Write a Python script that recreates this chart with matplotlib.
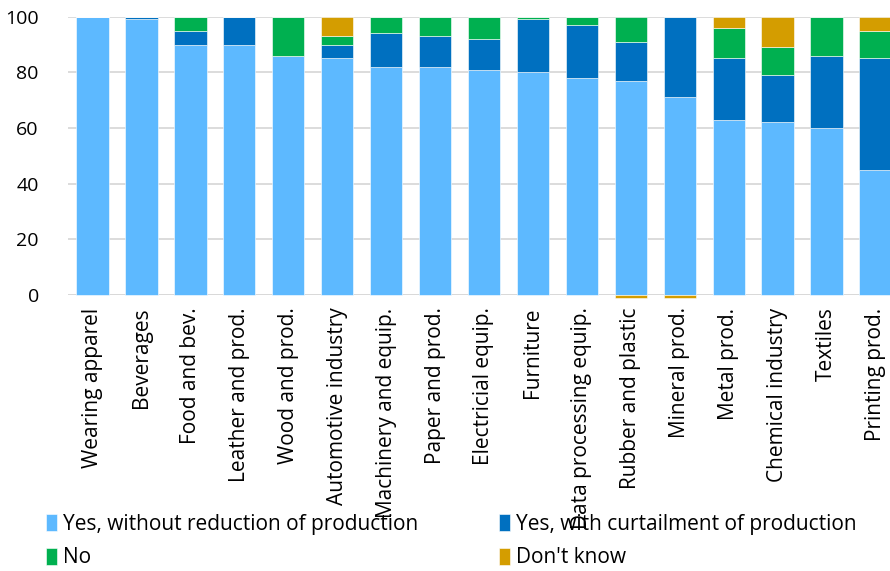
import matplotlib
matplotlib.use("Agg")
import matplotlib.pyplot as plt
from matplotlib import font_manager
import numpy as np

categories = ["Wearing apparel", "Beverages", "Food and bev.", "Leather and prod.",
              "Wood and prod.", "Automotive industry", "Machinery and equip.",
              "Paper and prod.", "Electricial equip.", "Furniture",
              "Data processing equip.", "Rubber and plastic", "Mineral prod.",
              "Metal prod.", "Chemical industry", "Textiles", "Printing prod."]
yes_without = [100, 99, 90, 90, 86, 85, 82, 82, 81, 80, 78, 77, 71, 63, 62, 60, 45]
yes_with =    [0, 1, 5, 10, 0, 5, 12, 11, 11, 19, 19, 14, 29, 22, 17, 26, 40]
no =          [0, 0, 5, 0, 14, 3, 6, 7, 8, 1, 3, 9, 0, 11, 10, 14, 10]
dont_know =   [0, 0, 0, 0, 0, 7, 0, 0, 0, 0, 0, -1, -1, 4, 11, 0, 5]
series_names = ["Yes, without reduction of production", "Yes, with curtailment of production",
                "No", "Don't know"]
colors = ["#5DB9FF", "#0070C0", "#00B050", "#D49D00"]
yticks = [0, 20, 40, 60, 80, 100]

avail = {f.name for f in font_manager.fontManager.ttflist}
tick_font = "Open Sans" if "Open Sans" in avail else "DejaVu Sans"
leg_font = "Liberation Sans Narrow" if "Liberation Sans Narrow" in avail else tick_font

fig = plt.figure(figsize=(8.9, 5.71), dpi=100)
ax = fig.add_axes([68/890, 1-295/571, 832/890, (295-16.7)/571])

x = np.arange(len(categories))
pos_bottom = np.zeros(len(categories))
neg_bottom = np.zeros(len(categories))
handles = []
for vals, c, name in zip([yes_without, yes_with, no, dont_know], colors, series_names):
    v = np.array(vals, dtype=float)
    bottom = np.where(v >= 0, pos_bottom, neg_bottom)
    h = ax.bar(x, v, 0.66, bottom=bottom, color=c, edgecolor="#FFFFFF", linewidth=0.4,
               label=name, zorder=3)
    for p in h.patches:
        p.set_clip_on(False)
    handles.append(h)
    pos_bottom += np.where(v >= 0, v, 0)
    neg_bottom += np.where(v < 0, v, 0)

ax.set_xlim(-0.5, len(categories) - 0.5)
ax.set_ylim(0, 100)
ax.set_yticks(yticks)
ax.yaxis.grid(True, color="#D9D9D9", linewidth=1.3, zorder=0)
ax.set_axisbelow(True)
for s in ax.spines.values():
    s.set_visible(False)
ax.axhline(0, color="#D9D9D9", linewidth=1.3, zorder=1)
ax.tick_params(axis="both", length=0)
ax.tick_params(axis="y", pad=21)
ax.set_xticks(x)
ax.set_xticklabels(categories, rotation=90, fontsize=15, family=tick_font)
for lab in ax.get_yticklabels():
    lab.set_fontsize(14)
    lab.set_family(tick_font)
ax.tick_params(axis="x", pad=9)

order = [0, 2, 1, 3]
leg = fig.legend([handles[i] for i in order], [series_names[i] for i in order],
                 ncol=2, loc="lower left", bbox_to_anchor=(31/890, -12/571),
                 frameon=False, prop={"family": leg_font, "size": 15},
                 handlelength=0.55, handleheight=0.85, handletextpad=0.3,
                 columnspacing=3.85, labelspacing=0.6, borderpad=0.2)

fig.savefig("out.png", dpi=100)
